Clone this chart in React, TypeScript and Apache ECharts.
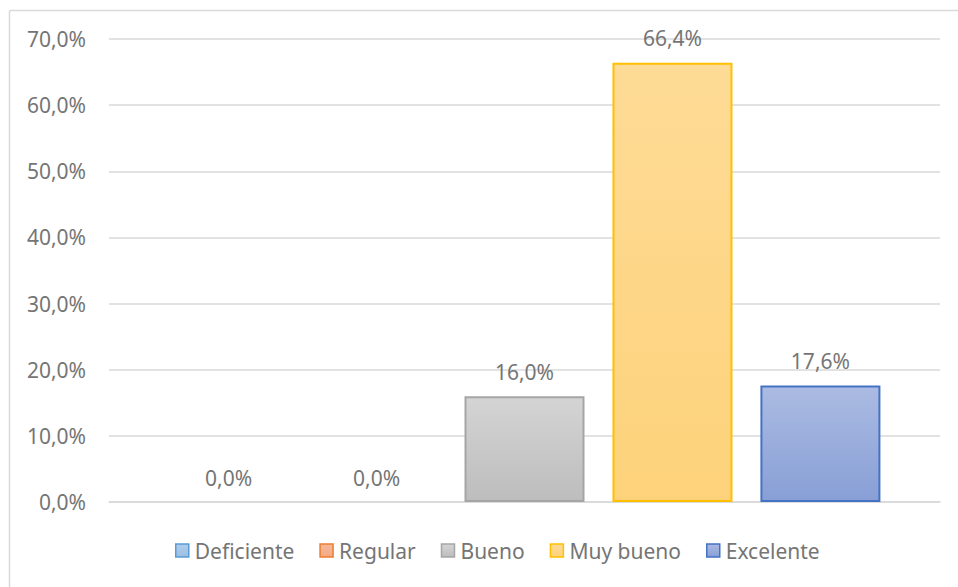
import React, { useEffect, useRef } from "react";
import * as echarts from "echarts";

const categories = [""];
const seriesNames = ["Deficiente", "Regular", "Bueno", "Muy bueno", "Excelente"];
const seriesValues = [0.0, 0.0, 16.0, 66.4, 17.6];
const yTicks = [0, 10, 20, 30, 40, 50, 60, 70];

const borderColors = ["#5b9bd5", "#ed7d31", "#a5a5a5", "#ffc000", "#4472c4"];
const topColors = ["#b1cdea", "#f6b99a", "#d4d4d4", "#fedb96", "#abbbe2"];
const bottomColors = ["#9bbfe3", "#f3a983", "#bdbdbd", "#fdd27a", "#889fd6"];

const FONT = "'Noto Sans', 'Open Sans', sans-serif";
const TEXT = "#757575";

const fmt = (v: number) => v.toFixed(1).replace(".", ",") + "%";

export default function App() {
  const ref = useRef<HTMLDivElement>(null);
  useEffect(() => {
    if (!ref.current) return;
    const chart = echarts.init(ref.current, undefined, { renderer: "svg" });
    const grad = (i: number) =>
      new echarts.graphic.LinearGradient(0, 0, 0, 1, [
        { offset: 0, color: topColors[i] },
        { offset: 1, color: bottomColors[i] },
      ]);
    chart.setOption({
      animation: false,
      backgroundColor: "#ffffff",
      textStyle: { fontFamily: FONT },
      graphic: [
        { type: "line", shape: { x1: 9.5, y1: 10.5, x2: 958, y2: 10.5 }, style: { stroke: "#d9d9d9", lineWidth: 1.5 } },
        { type: "line", shape: { x1: 9.5, y1: 10.5, x2: 9.5, y2: 587 }, style: { stroke: "#d9d9d9", lineWidth: 1.5 } },
      ],
      grid: { left: 109, right: 18, top: 39, bottom: 85, containLabel: false },
      legend: {
        bottom: 21,
        left: 170,
        icon: "rect",
        itemWidth: 13,
        itemHeight: 13,
        itemGap: 25,
        textStyle: { fontFamily: FONT, fontSize: 21, color: TEXT, padding: [0, 0, 0, 1] },
        data: seriesNames.map((n, i) => ({
          name: n,
          itemStyle: { color: grad(i), borderColor: borderColors[i], borderWidth: 1.5 },
        })),
      },
      xAxis: {
        type: "category",
        data: categories,
        axisLine: { lineStyle: { color: "#d9d9d9", width: 1.5 } },
        axisTick: { show: false },
        axisLabel: { show: false },
      },
      yAxis: {
        type: "value",
        min: 0,
        max: 70,
        interval: 10,
        axisLine: { show: false },
        axisTick: { show: false },
        axisLabel: {
          margin: 23,
          fontFamily: FONT,
          fontSize: 21,
          color: TEXT,
          formatter: (v: number) => (yTicks.includes(v) ? fmt(v) : ""),
        },
        splitLine: { lineStyle: { color: "#d9d9d9", width: 1.5 } },
      },
      series: seriesNames.map((n, i) => ({
        name: n,
        type: "bar",
        data: [seriesValues[i]],
        barWidth: 120,
        barGap: "23.3%",
        itemStyle: {
          color: grad(i),
          borderColor: borderColors[i],
          borderWidth: seriesValues[i] > 0 ? 2 : 0,
        },
        label: {
          show: true,
          position: "top",
          distance: 14,
          fontFamily: FONT,
          fontSize: 21,
          color: TEXT,
          formatter: (p: any) => fmt(p.value),
        },
      })),
    });
    return () => chart.dispose();
  }, []);
  return (
    <div
      ref={ref}
      style={{ position: "fixed", left: 0, top: 0, width: 958, height: 587 }}
    />
  );
}
